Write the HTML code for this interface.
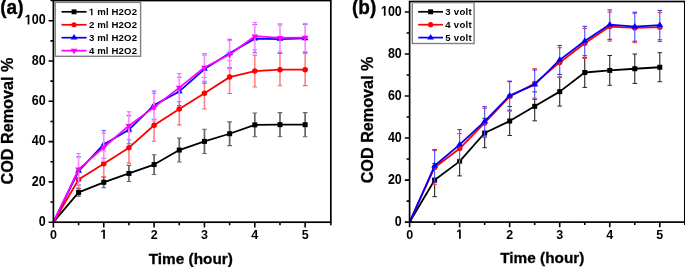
<!DOCTYPE html>
<html><head><meta charset="utf-8"><style>
html,body{margin:0;padding:0;background:#fff;}
svg{display:block;will-change:transform;}
text{font-family:"Liberation Sans",sans-serif;font-weight:bold;fill:#000;}
.tk{font-size:12.5px;}
.lg{font-size:10px;}
.lga{font-size:9.6px;letter-spacing:0.15px;}
.lgb{font-size:9.6px;letter-spacing:0.3px;}
.ax{font-size:15.35px;stroke:#000;stroke-width:0.3px;}
.ay{font-size:16.2px;stroke:#000;stroke-width:0.3px;}
.pl{font-size:19px;stroke:#000;stroke-width:0.35px;}
</style></head><body>
<svg width="685" height="267" viewBox="0 0 685 267">
<clipPath id="c53"><rect x="53.40" y="0.55" width="276.93" height="221.65"/></clipPath><g clip-path="url(#c53)">
<path d="M78.58 188.55V196.21M103.75 176.86V187.74M128.93 165.38V181.50M154.10 154.70V174.44M179.28 138.17V161.95M204.45 129.31V153.49M229.62 121.85V145.63M254.80 112.99V136.76M279.98 112.58V136.76M305.15 112.58V136.76" stroke="#666666" stroke-width="1.7" fill="none"/>
<path d="M76.28 188.55h4.6M76.28 196.21h4.6M101.45 176.86h4.6M101.45 187.74h4.6M126.63 165.38h4.6M126.63 181.50h4.6M151.80 154.70h4.6M151.80 174.44h4.6M176.97 138.17h4.6M176.97 161.95h4.6M202.15 129.31h4.6M202.15 153.49h4.6M227.32 121.85h4.6M227.32 145.63h4.6M252.50 112.99h4.6M252.50 136.76h4.6M277.68 112.58h4.6M277.68 136.76h4.6M302.85 112.58h4.6M302.85 136.76h4.6" stroke="#666666" stroke-width="1.1" fill="none"/>
<polyline points="53.40,222.20 78.58,192.38 103.75,182.30 128.93,173.44 154.10,164.57 179.28,150.06 204.45,141.40 229.62,133.74 254.80,124.88 279.98,124.67 305.15,124.67" fill="none" stroke="#000000" stroke-width="1.8" stroke-linejoin="round"/>
<rect x="50.90" y="219.70" width="5.00" height="5.00" fill="#000000"/>
<rect x="76.08" y="189.88" width="5.00" height="5.00" fill="#000000"/>
<rect x="101.25" y="179.80" width="5.00" height="5.00" fill="#000000"/>
<rect x="126.43" y="170.94" width="5.00" height="5.00" fill="#000000"/>
<rect x="151.60" y="162.07" width="5.00" height="5.00" fill="#000000"/>
<rect x="176.78" y="147.56" width="5.00" height="5.00" fill="#000000"/>
<rect x="201.95" y="138.90" width="5.00" height="5.00" fill="#000000"/>
<rect x="227.12" y="131.24" width="5.00" height="5.00" fill="#000000"/>
<rect x="252.30" y="122.38" width="5.00" height="5.00" fill="#000000"/>
<rect x="277.48" y="122.17" width="5.00" height="5.00" fill="#000000"/>
<rect x="302.65" y="122.17" width="5.00" height="5.00" fill="#000000"/>
<path d="M78.58 185.63V187.94M103.75 161.65V176.46M128.93 144.12V163.16M154.10 121.25V141.20M179.28 105.83V124.88M204.45 83.46V108.96M229.62 68.96V93.44M254.80 55.16V86.99M279.98 53.54V85.78M305.15 53.75V85.58" stroke="#ff8c8c" stroke-width="1.7" fill="none"/>
<path d="M76.28 171.02h4.6M76.28 187.94h4.6M101.45 151.07h4.6M101.45 176.46h4.6M126.63 132.13h4.6M126.63 163.16h4.6M151.80 109.36h4.6M151.80 141.20h4.6M176.97 93.04h4.6M176.97 124.88h4.6M202.15 77.52h4.6M202.15 108.96h4.6M227.32 60.80h4.6M227.32 93.44h4.6M252.50 55.16h4.6M252.50 86.99h4.6M277.68 53.54h4.6M277.68 85.78h4.6M302.85 53.75h4.6M302.85 85.58h4.6" stroke="#ff6666" stroke-width="1.1" fill="none"/>
<polyline points="53.40,222.20 78.58,179.48 103.75,163.76 128.93,147.64 154.10,125.28 179.28,108.96 204.45,93.24 229.62,77.12 254.80,71.07 279.98,69.66 305.15,69.66" fill="none" stroke="#ff0000" stroke-width="1.8" stroke-linejoin="round"/>
<circle cx="53.40" cy="222.20" r="2.75" fill="#ff0000"/>
<circle cx="78.58" cy="179.48" r="2.75" fill="#ff0000"/>
<circle cx="103.75" cy="163.76" r="2.75" fill="#ff0000"/>
<circle cx="128.93" cy="147.64" r="2.75" fill="#ff0000"/>
<circle cx="154.10" cy="125.28" r="2.75" fill="#ff0000"/>
<circle cx="179.28" cy="108.96" r="2.75" fill="#ff0000"/>
<circle cx="204.45" cy="93.24" r="2.75" fill="#ff0000"/>
<circle cx="229.62" cy="77.12" r="2.75" fill="#ff0000"/>
<circle cx="254.80" cy="71.07" r="2.75" fill="#ff0000"/>
<circle cx="279.98" cy="69.66" r="2.75" fill="#ff0000"/>
<circle cx="305.15" cy="69.66" r="2.75" fill="#ff0000"/>
<path d="M103.75 130.52V132.84M128.93 139.88V143.82M154.10 91.02V93.04M179.28 101.90V105.53M204.45 81.65V83.16M229.62 39.24V40.15M254.80 50.22V52.74M279.98 52.23V53.14M305.15 52.03V52.54" stroke="#8c8cff" stroke-width="1.7" fill="none"/>
<path d="M76.28 156.91h4.6M76.28 185.12h4.6M101.45 130.52h4.6M101.45 158.32h4.6M126.63 115.61h4.6M126.63 143.82h4.6M151.80 91.02h4.6M151.80 119.23h4.6M176.97 77.32h4.6M176.97 105.53h4.6M202.15 54.95h4.6M202.15 83.16h4.6M227.32 39.24h4.6M227.32 67.45h4.6M252.50 24.53h4.6M252.50 52.74h4.6M277.68 24.93h4.6M277.68 53.14h4.6M302.85 24.33h4.6M302.85 52.54h4.6" stroke="#6666ff" stroke-width="1.1" fill="none"/>
<polyline points="53.40,222.20 78.58,171.02 103.75,144.42 128.93,129.71 154.10,105.13 179.28,91.43 204.45,69.06 229.62,53.34 254.80,38.63 279.98,39.04 305.15,38.43" fill="none" stroke="#0000ff" stroke-width="1.8" stroke-linejoin="round"/>
<polygon points="53.40,218.60 56.80,224.00 50.00,224.00" fill="#0000ff"/>
<polygon points="78.58,167.42 81.98,172.82 75.17,172.82" fill="#0000ff"/>
<polygon points="103.75,140.82 107.15,146.22 100.35,146.22" fill="#0000ff"/>
<polygon points="128.93,126.11 132.33,131.51 125.53,131.51" fill="#0000ff"/>
<polygon points="154.10,101.53 157.50,106.93 150.70,106.93" fill="#0000ff"/>
<polygon points="179.28,87.83 182.68,93.23 175.88,93.23" fill="#0000ff"/>
<polygon points="204.45,65.46 207.85,70.86 201.05,70.86" fill="#0000ff"/>
<polygon points="229.62,49.74 233.03,55.14 226.22,55.14" fill="#0000ff"/>
<polygon points="254.80,35.03 258.20,40.43 251.40,40.43" fill="#0000ff"/>
<polygon points="279.98,35.44 283.38,40.84 276.58,40.84" fill="#0000ff"/>
<polygon points="305.15,34.83 308.55,40.23 301.75,40.23" fill="#0000ff"/>
<path d="M78.58 153.49V185.33M103.75 133.14V161.35M128.93 111.78V139.58M154.10 93.34V120.95M179.28 73.59V101.60M204.45 53.54V81.35M229.62 40.45V68.66M254.80 22.51V49.92M279.98 23.72V51.93M305.15 23.52V51.73" stroke="#ff8cff" stroke-width="1.7" fill="none"/>
<path d="M76.28 153.49h4.6M76.28 185.33h4.6M101.45 133.14h4.6M101.45 161.35h4.6M126.63 111.78h4.6M126.63 139.58h4.6M151.80 93.34h4.6M151.80 120.95h4.6M176.97 73.59h4.6M176.97 101.60h4.6M202.15 53.54h4.6M202.15 81.35h4.6M227.32 40.45h4.6M227.32 68.66h4.6M252.50 22.51h4.6M252.50 49.92h4.6M277.68 23.72h4.6M277.68 51.93h4.6M302.85 23.52h4.6M302.85 51.73h4.6" stroke="#ff66ff" stroke-width="1.1" fill="none"/>
<polyline points="53.40,222.20 78.58,169.41 103.75,147.24 128.93,125.68 154.10,107.14 179.28,87.60 204.45,67.45 229.62,54.55 254.80,36.22 279.98,37.83 305.15,37.63" fill="none" stroke="#ff00ff" stroke-width="1.8" stroke-linejoin="round"/>
<polygon points="53.40,225.80 56.80,220.40 50.00,220.40" fill="#ff00ff"/>
<polygon points="78.58,173.01 81.98,167.61 75.17,167.61" fill="#ff00ff"/>
<polygon points="103.75,150.84 107.15,145.44 100.35,145.44" fill="#ff00ff"/>
<polygon points="128.93,129.28 132.33,123.88 125.53,123.88" fill="#ff00ff"/>
<polygon points="154.10,110.74 157.50,105.34 150.70,105.34" fill="#ff00ff"/>
<polygon points="179.28,91.20 182.68,85.80 175.88,85.80" fill="#ff00ff"/>
<polygon points="204.45,71.05 207.85,65.65 201.05,65.65" fill="#ff00ff"/>
<polygon points="229.62,58.15 233.03,52.75 226.22,52.75" fill="#ff00ff"/>
<polygon points="254.80,39.82 258.20,34.42 251.40,34.42" fill="#ff00ff"/>
<polygon points="279.98,41.43 283.38,36.03 276.58,36.03" fill="#ff00ff"/>
<polygon points="305.15,41.23 308.55,35.83 301.75,35.83" fill="#ff00ff"/>
</g>
<rect x="53.40" y="0.55" width="277.43" height="221.65" fill="none" stroke="#000" stroke-width="1.7"/>
<path d="M53.40 222.20v5.2M78.58 222.20v3M103.75 222.20v5.2M128.93 222.20v3M154.10 222.20v5.2M179.28 222.20v3M204.45 222.20v5.2M229.62 222.20v3M254.80 222.20v5.2M279.98 222.20v3M305.15 222.20v5.2M330.82 222.20v3M53.40 222.20h-4.8M53.40 202.05h-3M53.40 181.90h-4.8M53.40 161.75h-3M53.40 141.60h-4.8M53.40 121.45h-3M53.40 101.30h-4.8M53.40 81.15h-3M53.40 61.00h-4.8M53.40 40.85h-3M53.40 20.70h-4.8M53.40 0.55h-3" stroke="#000" stroke-width="1.6" fill="none"/>
<text transform="translate(53.40,238.80) scale(1,1.06)" text-anchor="middle" class="tk">0</text>
<text transform="translate(103.75,238.80) scale(1,1.06)" text-anchor="middle" class="tk" fill="none" style="fill:none">1</text>
<path d="M478 0L478 1170L140 959L140 1180L493 1409L759 1409L759 0Z" transform="translate(100.274,238.800) scale(0.006104,-0.006470)"/>
<text transform="translate(154.10,238.80) scale(1,1.06)" text-anchor="middle" class="tk">2</text>
<text transform="translate(204.45,238.80) scale(1,1.06)" text-anchor="middle" class="tk">3</text>
<text transform="translate(254.80,238.80) scale(1,1.06)" text-anchor="middle" class="tk">4</text>
<text transform="translate(305.15,238.80) scale(1,1.06)" text-anchor="middle" class="tk">5</text>
<text transform="translate(45.60,225.90) scale(1,1.12)" text-anchor="end" class="tk">0</text>
<text transform="translate(45.60,185.60) scale(1,1.12)" text-anchor="end" class="tk">20</text>
<text transform="translate(45.60,145.30) scale(1,1.12)" text-anchor="end" class="tk">40</text>
<text transform="translate(45.60,105.00) scale(1,1.12)" text-anchor="end" class="tk">60</text>
<text transform="translate(45.60,64.70) scale(1,1.12)" text-anchor="end" class="tk">80</text>
<text transform="translate(45.60,24.40) scale(1,1.12)" text-anchor="end" class="tk">00</text>
<path d="M478 0L478 1170L140 959L140 1180L493 1409L759 1409L759 0Z" transform="translate(24.744,24.400) scale(0.006104,-0.006836)"/>
<rect x="55.2" y="2.4" width="85.4" height="53.9" fill="#fff" stroke="#808080" stroke-width="1.4"/>
<line x1="61.5" y1="11.80" x2="86.6" y2="11.80" stroke="#000000" stroke-width="1.7"/>
<rect x="71.60" y="9.35" width="4.90" height="4.90" fill="#000000"/>
<text x="88.9" y="15.30" class="lga"><tspan style="fill:none">1</tspan> ml H2O2</text>
<path d="M478 0L478 1170L140 959L140 1180L493 1409L759 1409L759 0Z" transform="translate(88.900,15.300) scale(0.004687,-0.004687)"/>
<line x1="61.5" y1="24.75" x2="86.6" y2="24.75" stroke="#ff0000" stroke-width="1.7"/>
<circle cx="74.05" cy="24.75" r="2.6" fill="#ff0000"/>
<text x="88.9" y="28.25" class="lga">2 ml H2O2</text>
<line x1="61.5" y1="37.70" x2="86.6" y2="37.70" stroke="#0000ff" stroke-width="1.7"/>
<polygon points="74.05,34.10 77.45,39.50 70.65,39.50" fill="#0000ff"/>
<text x="88.9" y="41.20" class="lga">3 ml H2O2</text>
<line x1="61.5" y1="50.65" x2="86.6" y2="50.65" stroke="#ff00ff" stroke-width="1.7"/>
<polygon points="74.05,54.25 77.45,48.85 70.65,48.85" fill="#ff00ff"/>
<text x="88.9" y="54.15" class="lga">4 ml H2O2</text>
<clipPath id="c409"><rect x="409.60" y="1.50" width="275.22" height="220.60"/></clipPath><g clip-path="url(#c409)">
<path d="M434.62 184.58V196.68M459.64 163.78V175.88M484.66 137.94V147.72M509.68 111.47V135.54M534.70 99.70V120.83M559.72 77.43V106.12M584.74 58.52V87.43M609.76 55.49V85.32M634.78 54.02V83.43M659.80 52.76V81.75" stroke="#262626" stroke-width="1.1" fill="none"/>
<path d="M432.32 163.48h4.6M432.32 196.68h4.6M457.34 146.88h4.6M457.34 175.88h4.6M482.36 118.31h4.6M482.36 147.72h4.6M507.38 106.55h4.6M507.38 135.54h4.6M532.40 91.84h4.6M532.40 120.83h4.6M557.42 77.13h4.6M557.42 106.12h4.6M582.44 57.59h4.6M582.44 87.43h4.6M607.46 55.49h4.6M607.46 85.32h4.6M632.48 54.02h4.6M632.48 83.43h4.6M657.50 52.76h4.6M657.50 81.75h4.6" stroke="#262626" stroke-width="1.0" fill="none"/>
<polyline points="409.60,222.10 434.62,180.08 459.64,161.38 484.66,133.02 509.68,121.04 534.70,106.33 559.72,91.63 584.74,72.51 609.76,70.41 634.78,68.73 659.80,67.26" fill="none" stroke="#000000" stroke-width="1.8" stroke-linejoin="round"/>
<rect x="407.10" y="219.60" width="5.00" height="5.00" fill="#000000"/>
<rect x="432.12" y="177.58" width="5.00" height="5.00" fill="#000000"/>
<rect x="457.14" y="158.88" width="5.00" height="5.00" fill="#000000"/>
<rect x="482.16" y="130.52" width="5.00" height="5.00" fill="#000000"/>
<rect x="507.18" y="118.54" width="5.00" height="5.00" fill="#000000"/>
<rect x="532.20" y="103.83" width="5.00" height="5.00" fill="#000000"/>
<rect x="557.22" y="89.13" width="5.00" height="5.00" fill="#000000"/>
<rect x="582.24" y="70.01" width="5.00" height="5.00" fill="#000000"/>
<rect x="607.26" y="67.91" width="5.00" height="5.00" fill="#000000"/>
<rect x="632.28" y="66.23" width="5.00" height="5.00" fill="#000000"/>
<rect x="657.30" y="64.76" width="5.00" height="5.00" fill="#000000"/>
<path d="M434.62 182.27V184.28M459.64 159.79V163.48M484.66 136.47V137.64M509.68 110.42V111.17M534.70 68.73V69.69M559.72 74.70V77.13M584.74 56.00V58.22M609.76 39.61V41.10M634.78 41.50V42.67M659.80 40.14V41.62" stroke="#ff4d4d" stroke-width="1.1" fill="none"/>
<path d="M432.32 150.67h4.6M432.32 184.28h4.6M457.34 133.65h4.6M457.34 163.48h4.6M482.36 108.23h4.6M482.36 137.64h4.6M507.38 81.75h4.6M507.38 111.17h4.6M532.40 68.73h4.6M532.40 98.14h4.6M557.42 47.72h4.6M557.42 77.13h4.6M582.44 28.39h4.6M582.44 58.22h4.6M607.46 12.11h4.6M607.46 41.10h4.6M632.48 13.26h4.6M632.48 42.67h4.6M657.50 12.63h4.6M657.50 41.62h4.6" stroke="#ff2626" stroke-width="1.0" fill="none"/>
<polyline points="409.60,222.10 434.62,167.47 459.64,148.56 484.66,122.93 509.68,96.46 534.70,83.43 559.72,62.42 584.74,43.30 609.76,26.60 634.78,27.97 659.80,27.13" fill="none" stroke="#ff0000" stroke-width="1.8" stroke-linejoin="round"/>
<circle cx="409.60" cy="222.10" r="2.75" fill="#ff0000"/>
<circle cx="434.62" cy="167.47" r="2.75" fill="#ff0000"/>
<circle cx="459.64" cy="148.56" r="2.75" fill="#ff0000"/>
<circle cx="484.66" cy="122.93" r="2.75" fill="#ff0000"/>
<circle cx="509.68" cy="96.46" r="2.75" fill="#ff0000"/>
<circle cx="534.70" cy="83.43" r="2.75" fill="#ff0000"/>
<circle cx="559.72" cy="62.42" r="2.75" fill="#ff0000"/>
<circle cx="584.74" cy="43.30" r="2.75" fill="#ff0000"/>
<circle cx="609.76" cy="26.60" r="2.75" fill="#ff0000"/>
<circle cx="634.78" cy="27.97" r="2.75" fill="#ff0000"/>
<circle cx="659.80" cy="27.13" r="2.75" fill="#ff0000"/>
<path d="M434.62 149.62V181.97M459.64 129.66V159.49M484.66 106.76V136.17M509.68 81.12V110.12M534.70 69.99V99.40M559.72 45.41V74.40M584.74 26.29V55.70M609.76 9.90V39.31M634.78 12.21V41.20M659.80 10.42V39.84" stroke="#4d4dff" stroke-width="1.1" fill="none"/>
<path d="M432.32 149.62h4.6M432.32 181.97h4.6M457.34 129.66h4.6M457.34 159.49h4.6M482.36 106.76h4.6M482.36 136.17h4.6M507.38 81.12h4.6M507.38 110.12h4.6M532.40 69.99h4.6M532.40 99.40h4.6M557.42 45.41h4.6M557.42 74.40h4.6M582.44 26.29h4.6M582.44 55.70h4.6M607.46 9.90h4.6M607.46 39.31h4.6M632.48 12.21h4.6M632.48 41.20h4.6M657.50 10.42h4.6M657.50 39.84h4.6" stroke="#2626ff" stroke-width="1.0" fill="none"/>
<polyline points="409.60,222.10 434.62,165.79 459.64,144.57 484.66,121.46 509.68,95.62 534.70,84.69 559.72,59.90 584.74,40.99 609.76,24.61 634.78,26.71 659.80,25.13" fill="none" stroke="#0000ff" stroke-width="1.8" stroke-linejoin="round"/>
<polygon points="409.60,218.50 413.00,223.90 406.20,223.90" fill="#0000ff"/>
<polygon points="434.62,162.19 438.02,167.59 431.22,167.59" fill="#0000ff"/>
<polygon points="459.64,140.97 463.04,146.37 456.24,146.37" fill="#0000ff"/>
<polygon points="484.66,117.86 488.06,123.26 481.26,123.26" fill="#0000ff"/>
<polygon points="509.68,92.02 513.08,97.42 506.28,97.42" fill="#0000ff"/>
<polygon points="534.70,81.09 538.10,86.49 531.30,86.49" fill="#0000ff"/>
<polygon points="559.72,56.30 563.12,61.70 556.32,61.70" fill="#0000ff"/>
<polygon points="584.74,37.39 588.14,42.79 581.34,42.79" fill="#0000ff"/>
<polygon points="609.76,21.01 613.16,26.41 606.36,26.41" fill="#0000ff"/>
<polygon points="634.78,23.11 638.18,28.51 631.38,28.51" fill="#0000ff"/>
<polygon points="659.80,21.53 663.20,26.93 656.40,26.93" fill="#0000ff"/>
</g>
<rect x="409.60" y="1.50" width="275.22" height="220.60" fill="none" stroke="#000" stroke-width="1.7"/>
<path d="M409.60 222.10v5.2M434.62 222.10v3M459.64 222.10v5.2M484.66 222.10v3M509.68 222.10v5.2M534.70 222.10v3M559.72 222.10v5.2M584.74 222.10v3M609.76 222.10v5.2M634.78 222.10v3M659.80 222.10v5.2M684.82 222.10v3M409.60 222.10h-4.8M409.60 201.09h-3M409.60 180.08h-4.8M409.60 159.07h-3M409.60 138.06h-4.8M409.60 117.05h-3M409.60 96.04h-4.8M409.60 75.03h-3M409.60 54.02h-4.8M409.60 33.01h-3M409.60 12.00h-4.8" stroke="#000" stroke-width="1.6" fill="none"/>
<text transform="translate(409.60,238.70) scale(1,1.06)" text-anchor="middle" class="tk">0</text>
<text transform="translate(459.64,238.70) scale(1,1.06)" text-anchor="middle" class="tk" fill="none" style="fill:none">1</text>
<path d="M478 0L478 1170L140 959L140 1180L493 1409L759 1409L759 0Z" transform="translate(456.164,238.700) scale(0.006104,-0.006470)"/>
<text transform="translate(509.68,238.70) scale(1,1.06)" text-anchor="middle" class="tk">2</text>
<text transform="translate(559.72,238.70) scale(1,1.06)" text-anchor="middle" class="tk">3</text>
<text transform="translate(609.76,238.70) scale(1,1.06)" text-anchor="middle" class="tk">4</text>
<text transform="translate(659.80,238.70) scale(1,1.06)" text-anchor="middle" class="tk">5</text>
<text transform="translate(401.80,225.80) scale(1,1.12)" text-anchor="end" class="tk">0</text>
<text transform="translate(401.80,183.78) scale(1,1.12)" text-anchor="end" class="tk">20</text>
<text transform="translate(401.80,141.76) scale(1,1.12)" text-anchor="end" class="tk">40</text>
<text transform="translate(401.80,99.74) scale(1,1.12)" text-anchor="end" class="tk">60</text>
<text transform="translate(401.80,57.72) scale(1,1.12)" text-anchor="end" class="tk">80</text>
<text transform="translate(401.80,15.70) scale(1,1.12)" text-anchor="end" class="tk">00</text>
<path d="M478 0L478 1170L140 959L140 1180L493 1409L759 1409L759 0Z" transform="translate(380.944,15.700) scale(0.006104,-0.006836)"/>
<rect x="412.3" y="2.6" width="61.8" height="40.9" fill="#fff" stroke="#808080" stroke-width="1.4"/>
<line x1="418.2" y1="11.80" x2="443" y2="11.80" stroke="#000000" stroke-width="1.7"/>
<rect x="428.15" y="9.35" width="4.90" height="4.90" fill="#000000"/>
<text x="445.2" y="15.30" class="lgb">3 volt</text>
<line x1="418.2" y1="24.70" x2="443" y2="24.70" stroke="#ff0000" stroke-width="1.7"/>
<circle cx="430.60" cy="24.70" r="2.6" fill="#ff0000"/>
<text x="445.2" y="28.20" class="lgb">4 volt</text>
<line x1="418.2" y1="37.60" x2="443" y2="37.60" stroke="#0000ff" stroke-width="1.7"/>
<polygon points="430.60,34.00 434.00,39.40 427.20,39.40" fill="#0000ff"/>
<text x="445.2" y="41.10" class="lgb">5 volt</text>
<text transform="translate(190.8,263.5) scale(1,1.0)" text-anchor="middle" class="ax">Time (hour)</text>
<text transform="translate(542.3,263.0) scale(1,1.0)" text-anchor="middle" class="ax">Time (hour)</text>
<text transform="translate(12.7,121.1) rotate(-90)" text-anchor="middle" class="ay">COD Removal %</text>
<text transform="translate(373.3,119.9) rotate(-90)" text-anchor="middle" class="ay">COD Removal %</text>
<text transform="translate(0.3,14.3) scale(1,1.04)" class="pl">(a)</text>
<text transform="translate(352,14.3) scale(1,1.04)" class="pl">(b)</text>
</svg>
</body></html>
